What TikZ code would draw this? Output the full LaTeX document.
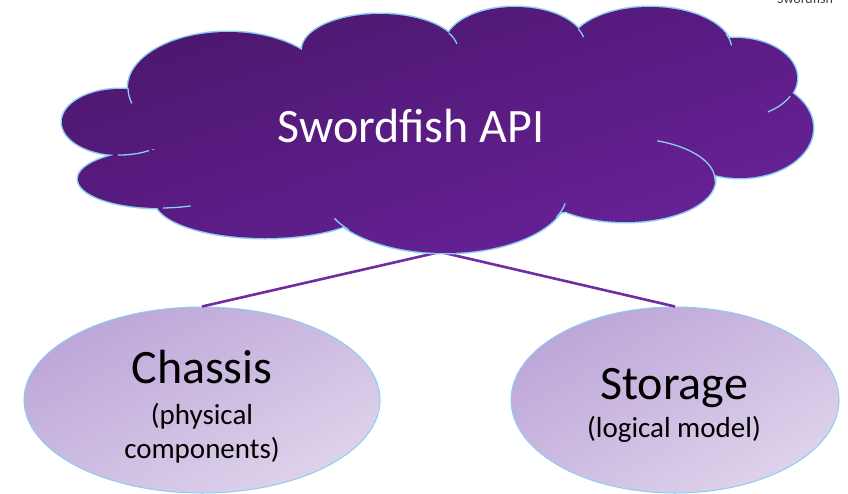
\documentclass[tikz,border=0pt]{standalone}
\usepackage{fontspec}
\setmainfont{Carlito}
\usetikzlibrary{shapes.geometric,shadings}
\definecolor{cloudA}{RGB}{72,22,104}
\definecolor{cloudB}{RGB}{90,28,132}
\definecolor{cloudC}{RGB}{108,36,158}
\definecolor{cloudline}{RGB}{140,205,240}
\definecolor{ovalA}{RGB}{183,158,213}
\definecolor{ovalB}{RGB}{205,188,226}
\definecolor{ovalC}{RGB}{228,219,238}
\definecolor{linkcol}{RGB}{112,45,160}
\tikzset{
  oval/.style={ellipse, draw=cloudline, line width=1pt, inner sep=0pt,
    upper left=ovalA, upper right=ovalB, lower left=ovalB, lower right=ovalC},
  link/.style={draw=linkcol, line width=2.6pt},
  inarc/.style={draw=cloudline, line width=1.3pt},
  bigtxt/.style={font=\fontsize{48}{52}\selectfont, anchor=base},
  smalltxt/.style={font=\fontsize{29}{33}\selectfont, anchor=base},
}
\begin{document}
\begin{tikzpicture}[x=1pt,y=-1pt]
\useasboundingbox (0,0) rectangle (848,493);
\fill[white] (0,0) rectangle (848,493);

% ovals
\node[oval, minimum width=356pt, minimum height=186pt] (chassis) at (202,400) {};
\node[oval, minimum width=328pt, minimum height=186pt] (storage) at (675,400) {};

% connectors (ends hidden under the cloud)
\coordinate (ca) at (470,245.1);
\coordinate (cb) at (410,245);
\draw[link] (chassis.north) -- (ca);
\draw[link] (storage.north) -- (cb);

% cloud outline
\draw[draw=cloudline, line width=3pt]
  (120,122) ellipse (58pt and 33pt)
  (160,179) ellipse (82pt and 29pt)
  (228,88) ellipse (100pt and 56pt)
  (380,50) ellipse (78pt and 36pt)
  (515,45) ellipse (70pt and 38pt)
  (650,50) ellipse (82pt and 43pt)
  (735,78) ellipse (62pt and 40pt)
  (740,128) ellipse (73pt and 50pt)
  (625,180) ellipse (90pt and 42pt)
  (445,193) ellipse (122pt and 60pt)
  (265,200) ellipse (110pt and 38pt)
  (440,135) ellipse (290pt and 85pt);
% cloud fill
\shade[upper left=cloudA, upper right=cloudB, lower left=cloudB, lower right=cloudC]
  (120,122) ellipse (58pt and 33pt)
  (160,179) ellipse (82pt and 29pt)
  (228,88) ellipse (100pt and 56pt)
  (380,50) ellipse (78pt and 36pt)
  (515,45) ellipse (70pt and 38pt)
  (650,50) ellipse (82pt and 43pt)
  (735,78) ellipse (62pt and 40pt)
  (740,128) ellipse (73pt and 50pt)
  (625,180) ellipse (90pt and 42pt)
  (445,193) ellipse (122pt and 60pt)
  (265,200) ellipse (110pt and 38pt)
  (440,135) ellipse (290pt and 85pt);
% interior arcs of the cloud
\draw[inarc] (625,180) ++(69:90pt and 42pt) arc[start angle=69, end angle=-2, x radius=90pt, y radius=42pt];
\draw[inarc] (120,122) ++(268:58pt and 33pt) arc[start angle=268, end angle=300, x radius=58pt, y radius=33pt];
\draw[inarc] (735,78) ++(-27:62pt and 40pt) arc[start angle=-27, end angle=-58, x radius=62pt, y radius=40pt];
\draw[inarc] (228,88) ++(180:100pt and 56pt) arc[start angle=180, end angle=196, x radius=100pt, y radius=56pt];
\draw[inarc] (160,179) ++(-88:82pt and 29pt) arc[start angle=-88, end angle=-68, x radius=82pt, y radius=29pt];
\draw[inarc] (445,193) ++(218:122pt and 60pt) arc[start angle=218, end angle=205, x radius=122pt, y radius=60pt];
\draw[inarc] (445,193) ++(-24:122pt and 60pt) arc[start angle=-24, end angle=-10, x radius=122pt, y radius=60pt];
\draw[inarc] (380,50) ++(28:78pt and 36pt) arc[start angle=28, end angle=10, x radius=78pt, y radius=36pt];
\draw[inarc] (515,45) ++(25:70pt and 38pt) arc[start angle=25, end angle=12, x radius=70pt, y radius=38pt];
\draw[inarc] (650,50) ++(22:82pt and 43pt) arc[start angle=22, end angle=6, x radius=82pt, y radius=43pt];

% texts
\node[bigtxt, text=white] (api) at (411,142) {Swordfish API};
\node[bigtxt] (chassisT) at (202,383) {Chassis};
\node[smalltxt] (chassisS1) at (202,424) {(physical};
\node[smalltxt] (chassisS2) at (202,458) {components)};
\node[bigtxt] (storageT) at (674,399) {Storage};
\node[smalltxt] (storageS) at (674,437) {(logical model)};

\begin{scope}
\clip (0,0) rectangle (848,493);
\node[anchor=base west, font=\fontsize{14}{16}\selectfont, text=black!75, inner sep=0pt] (corner) at (777,3) {Swordfish};
\end{scope}
\end{tikzpicture}
\end{document}
